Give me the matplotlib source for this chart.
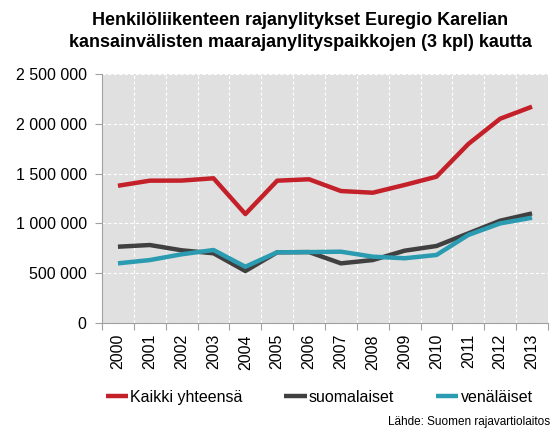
import numpy as np
import matplotlib
matplotlib.use('Agg')
from matplotlib import pyplot as plt
from matplotlib.ticker import FuncFormatter, FixedLocator

plt.rcParams['font.family'] = ['Liberation Sans', 'DejaVu Sans']

years = [str(y) for y in range(2000, 2014)]
kaikki = [1378000, 1429000, 1430000, 1453000, 1094000, 1429000, 1443000,
          1325000, 1308000, 1386000, 1469000, 1797000, 2051000, 2172000]
suomalaiset = [766000, 783000, 730000, 700000, 522000, 710000, 712000,
               599000, 632000, 726000, 773000, 900000, 1027000, 1100000]
venalaiset = [599000, 632000, 690000, 733000, 565000, 710000, 712000,
              716000, 666000, 650000, 683000, 884000, 1000000, 1057000]

fig = plt.figure(figsize=(5.56, 4.32), dpi=100)
ax = fig.add_axes([0.1835, 0.2523, 0.802, 0.5764])
ax.set_facecolor('#e0e0e0')

x = np.arange(len(years))
ax.plot(x, kaikki, color='#c4202a', lw=3.2, label='Kaikki yhteensä', solid_capstyle='butt')
ax.plot(x, suomalaiset, color='#404040', lw=3.2, label='suomalaiset', solid_capstyle='butt')
ax.plot(x, venalaiset, color='#2a9bb0', lw=3.2, label='venäläiset', solid_capstyle='butt')

ax.set_xlim(-0.5, len(years) - 0.5)
ax.set_ylim(0, 2500000)
ax.set_yticks(np.arange(0, 2500001, 500000))
ax.yaxis.set_major_formatter(FuncFormatter(lambda v, p: f'{int(v):,}'.replace(',', ' ')))

# category boundaries carry the ticks and grid, labels sit in the middle
ax.xaxis.set_major_locator(FixedLocator(np.arange(-0.5, len(years), 1)))
ax.xaxis.set_minor_locator(FixedLocator(x))
ax.set_xticklabels([])
ax.set_xticklabels(years, minor=True, rotation=90, fontsize=11.5)
ax.tick_params(axis='x', which='minor', length=0, pad=8)
ax.tick_params(axis='x', which='major', length=5, color='#a0a0a0')
ax.tick_params(axis='y', length=5, color='#a0a0a0', labelsize=11.5, pad=6)

ax.grid(True, which='major', color='white', ls=(0, (3, 2)), lw=0.8)
ax.set_axisbelow(True)
for s in ['top', 'right']:
    ax.spines[s].set_visible(False)
for s in ['left', 'bottom']:
    ax.spines[s].set_color('#a0a0a0')

fig.text(0.54, 0.972, 'Henkilöliikenteen rajanylitykset Euregio Karelian\n'
         'kansainvälisten maarajanylityspaikkojen (3 kpl) kautta',
         ha='center', va='top', fontsize=13, fontweight='bold', linespacing=1.38)

fig.legend(loc='center', bbox_to_anchor=(0.574, 0.081), ncol=3, frameon=False,
           fontsize=11.5, handlelength=1.4, handletextpad=0.15, columnspacing=2.6)
fig.text(0.99, 0.024, 'Lähde: Suomen rajavartiolaitos', ha='right', va='center', fontsize=8.5)

plt.savefig('out.png', dpi=100)
plt.close()
